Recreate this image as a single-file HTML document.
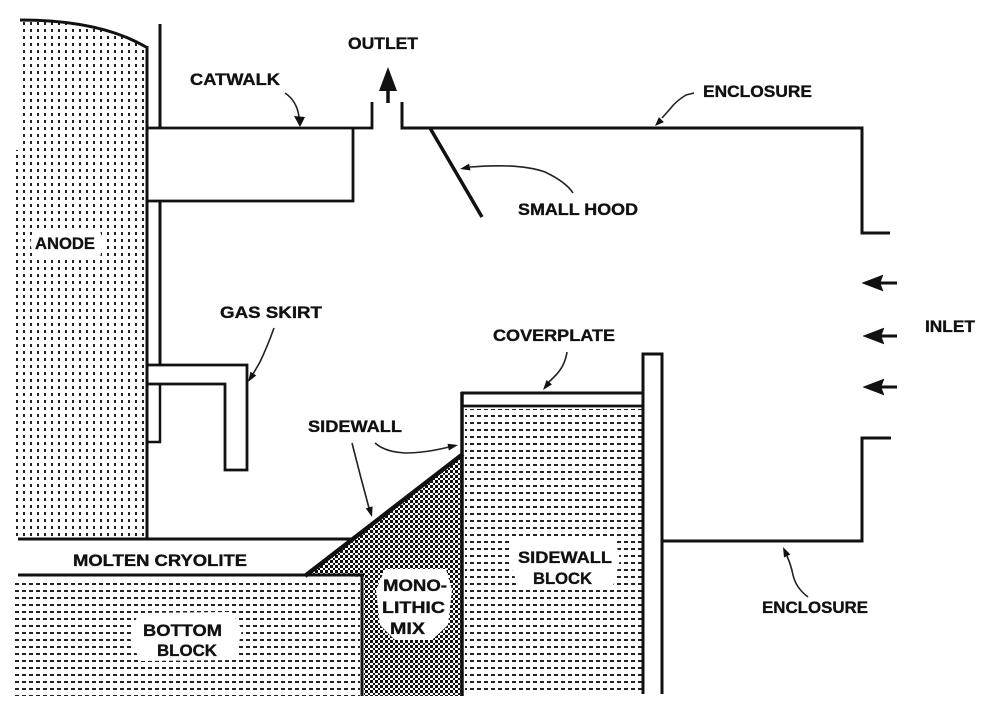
<!DOCTYPE html>
<html><head><meta charset="utf-8"><style>
html,body{margin:0;padding:0;background:#fff;}
svg{display:block;}
text{font-family:"Liberation Sans",Arial,sans-serif;font-weight:bold;font-size:17px;fill:#111;stroke:#111;stroke-width:0.35;}
</style></head><body>
<svg width="1000" height="712" viewBox="0 0 1000 712" xmlns="http://www.w3.org/2000/svg">
<defs>
<pattern id="vdots" width="7" height="7" patternUnits="userSpaceOnUse">
<rect x="2" y="1" width="2" height="3" fill="#222"/>
</pattern>
<pattern id="hdash" width="7" height="7" patternUnits="userSpaceOnUse">
<rect x="1" y="2" width="4" height="2" fill="#222"/>
</pattern>
<pattern id="checker" width="5" height="5" patternUnits="userSpaceOnUse">
<rect x="0" y="0" width="3" height="3" fill="#111"/>
<rect x="3" y="3" width="2" height="2" fill="#111"/>
</pattern>
</defs>
<rect width="1000" height="712" fill="#fff"/>

<!-- ANODE -->
<path d="M18,20 Q100,18 146,47 L146,538 L14,538 L14,150 L18,150 Z" fill="url(#vdots)"/>
<path d="M20,20 Q100,20 146,47" fill="none" stroke="#111" stroke-width="3"/>
<line x1="147" y1="46" x2="147" y2="540" stroke="#111" stroke-width="3"/>
<!-- rod -->
<line x1="160" y1="24" x2="160" y2="128" stroke="#111" stroke-width="3"/>
<line x1="160" y1="200" x2="160" y2="365" stroke="#111" stroke-width="3"/>
<polyline points="160,384 160,442 147,442" fill="none" stroke="#111" stroke-width="2.5"/>

<!-- catwalk -->
<polyline points="147,128 372,128 372,102" fill="none" stroke="#111" stroke-width="2.8"/>
<polyline points="353,128 353,201 147,201" fill="none" stroke="#111" stroke-width="2.8"/>
<!-- outlet -->
<polyline points="402,102 402,128 862,128 862,233 890,233" fill="none" stroke="#111" stroke-width="3"/>
<line x1="388" y1="88" x2="388" y2="103" stroke="#111" stroke-width="3.5"/>
<polygon points="388,67 379,91 397,91" fill="#111"/>
<!-- small hood -->
<line x1="430" y1="128" x2="482" y2="217" stroke="#111" stroke-width="3.5"/>

<!-- enclosure lower -->
<polyline points="891,438 862,438 862,541 663,541" fill="none" stroke="#111" stroke-width="3"/>

<!-- inlet arrows -->
<g fill="#111" stroke="#111">
<line x1="870" y1="283" x2="897" y2="283" stroke-width="3"/>
<polygon points="862,283 883,275 880,283 883,291" stroke-width="0.5"/>
<line x1="870" y1="336" x2="897" y2="336" stroke-width="3"/>
<polygon points="863,336 884,328 881,336 884,344" stroke-width="0.5"/>
<line x1="870" y1="387" x2="897" y2="387" stroke-width="3"/>
<polygon points="863,387 884,379 881,387 884,395" stroke-width="0.5"/>
</g>

<!-- gas skirt -->
<polyline points="147,365 247,365 247,470 225,470 225,384 147,384" fill="none" stroke="#111" stroke-width="2.8"/>

<!-- bottom block -->
<rect x="12" y="579" width="348" height="117" fill="url(#hdash)"/>
<line x1="18" y1="575" x2="364" y2="575" stroke="#111" stroke-width="3"/>
<line x1="362" y1="575" x2="362" y2="696" stroke="#111" stroke-width="3"/>
<!-- molten cryolite line -->
<line x1="18" y1="539" x2="354" y2="539" stroke="#111" stroke-width="3"/>

<!-- monolithic mix -->
<polygon points="305,575 462,454 462,696 364,696 364,577" fill="url(#checker)"/>
<line x1="305" y1="576" x2="463" y2="454" stroke="#111" stroke-width="4.5"/>

<!-- sidewall block -->
<rect x="465" y="409" width="177" height="286" fill="url(#hdash)"/>
<line x1="462" y1="392" x2="462" y2="696" stroke="#111" stroke-width="3.5"/>
<line x1="461" y1="393" x2="644" y2="393" stroke="#111" stroke-width="3"/>
<line x1="462" y1="406" x2="643" y2="406" stroke="#111" stroke-width="2.8"/>
<!-- pillar -->
<polyline points="643,694 643,354 662,354 662,694" fill="#fff" stroke="#111" stroke-width="3"/>

<!-- white label blobs -->
<path d="M34,230 L100,230 L103,243 L100,258 L34,258 L30,243 Z" fill="#fff"/>
<path d="M138,613 L232,612 L242,630 L235,660 L140,661 L130,638 Z" fill="#fff"/>
<path d="M512,540 L615,538 L620,560 L612,590 L520,590 L510,565 Z" fill="#fff"/>
<path d="M385,569 L446,569 L452,590 L448,625 L432,640 L395,640 L380,625 L376,590 Z" fill="#fff"/>

<!-- labels -->
<text x="348" y="49" textLength="70" lengthAdjust="spacingAndGlyphs">OUTLET</text>
<text x="190" y="85" textLength="90" lengthAdjust="spacingAndGlyphs">CATWALK</text>
<text x="703" y="97" textLength="109" lengthAdjust="spacingAndGlyphs">ENCLOSURE</text>
<text x="518" y="215" textLength="120" lengthAdjust="spacingAndGlyphs">SMALL HOOD</text>
<text x="35" y="249" textLength="60" lengthAdjust="spacingAndGlyphs">ANODE</text>
<text x="220" y="318" textLength="102" lengthAdjust="spacingAndGlyphs">GAS SKIRT</text>
<text x="925" y="332" textLength="50" lengthAdjust="spacingAndGlyphs">INLET</text>
<text x="493" y="341" textLength="122" lengthAdjust="spacingAndGlyphs">COVERPLATE</text>
<text x="308" y="432" textLength="94" lengthAdjust="spacingAndGlyphs">SIDEWALL</text>
<text x="73" y="566" textLength="174" lengthAdjust="spacingAndGlyphs">MOLTEN CRYOLITE</text>
<text x="518" y="563" textLength="94" lengthAdjust="spacingAndGlyphs">SIDEWALL</text>
<text x="533" y="584" textLength="59" lengthAdjust="spacingAndGlyphs">BLOCK</text>
<text x="383" y="591" textLength="64" lengthAdjust="spacingAndGlyphs">MONO-</text>
<text x="382" y="613" textLength="63" lengthAdjust="spacingAndGlyphs">LITHIC</text>
<text x="390" y="634" textLength="35" lengthAdjust="spacingAndGlyphs">MIX</text>
<text x="143" y="636" textLength="79" lengthAdjust="spacingAndGlyphs">BOTTOM</text>
<text x="157" y="656" textLength="60" lengthAdjust="spacingAndGlyphs">BLOCK</text>
<text x="762" y="613" textLength="106" lengthAdjust="spacingAndGlyphs">ENCLOSURE</text>

<!-- leaders -->
<g fill="none" stroke="#222" stroke-width="1.6">
<path d="M285,93 Q297,101 299,117"/>
<path d="M694,93 L686,95 Q676,101 670,109 L662,118"/>
<path d="M573,193 Q566,182 545,172 Q520,163 470,167"/>
<path d="M274,328 Q268,345 260,362 L253,374"/>
<path d="M567,352 Q565,366 555,376 L549,382"/>
<path d="M352,443 Q360,475 369,508"/>
<path d="M375,443 Q385,452 405,453 Q425,453 449,447"/>
<path d="M808,597 Q796,588 793,575 Q791,565 787,556"/>
</g>
<g fill="#111">
<polygon points="300,127 294,116 305,117"/>
<polygon points="655,126 663.9,122.1 658.9,117.1"/>
<polygon points="460,169 470.5,170.4 469.1,163.6"/>
<polygon points="248,382 256.3,375.5 250.5,371.7"/>
<polygon points="543,390 552,384.4 546.6,380"/>
<polygon points="372,517 372.6,506.4 365.8,508.4"/>
<polygon points="458,445 448.9,450.5 447.5,443.7"/>
<polygon points="783,547 790.4,554.5 784,557.5"/>
</g>
</svg>
</body></html>
